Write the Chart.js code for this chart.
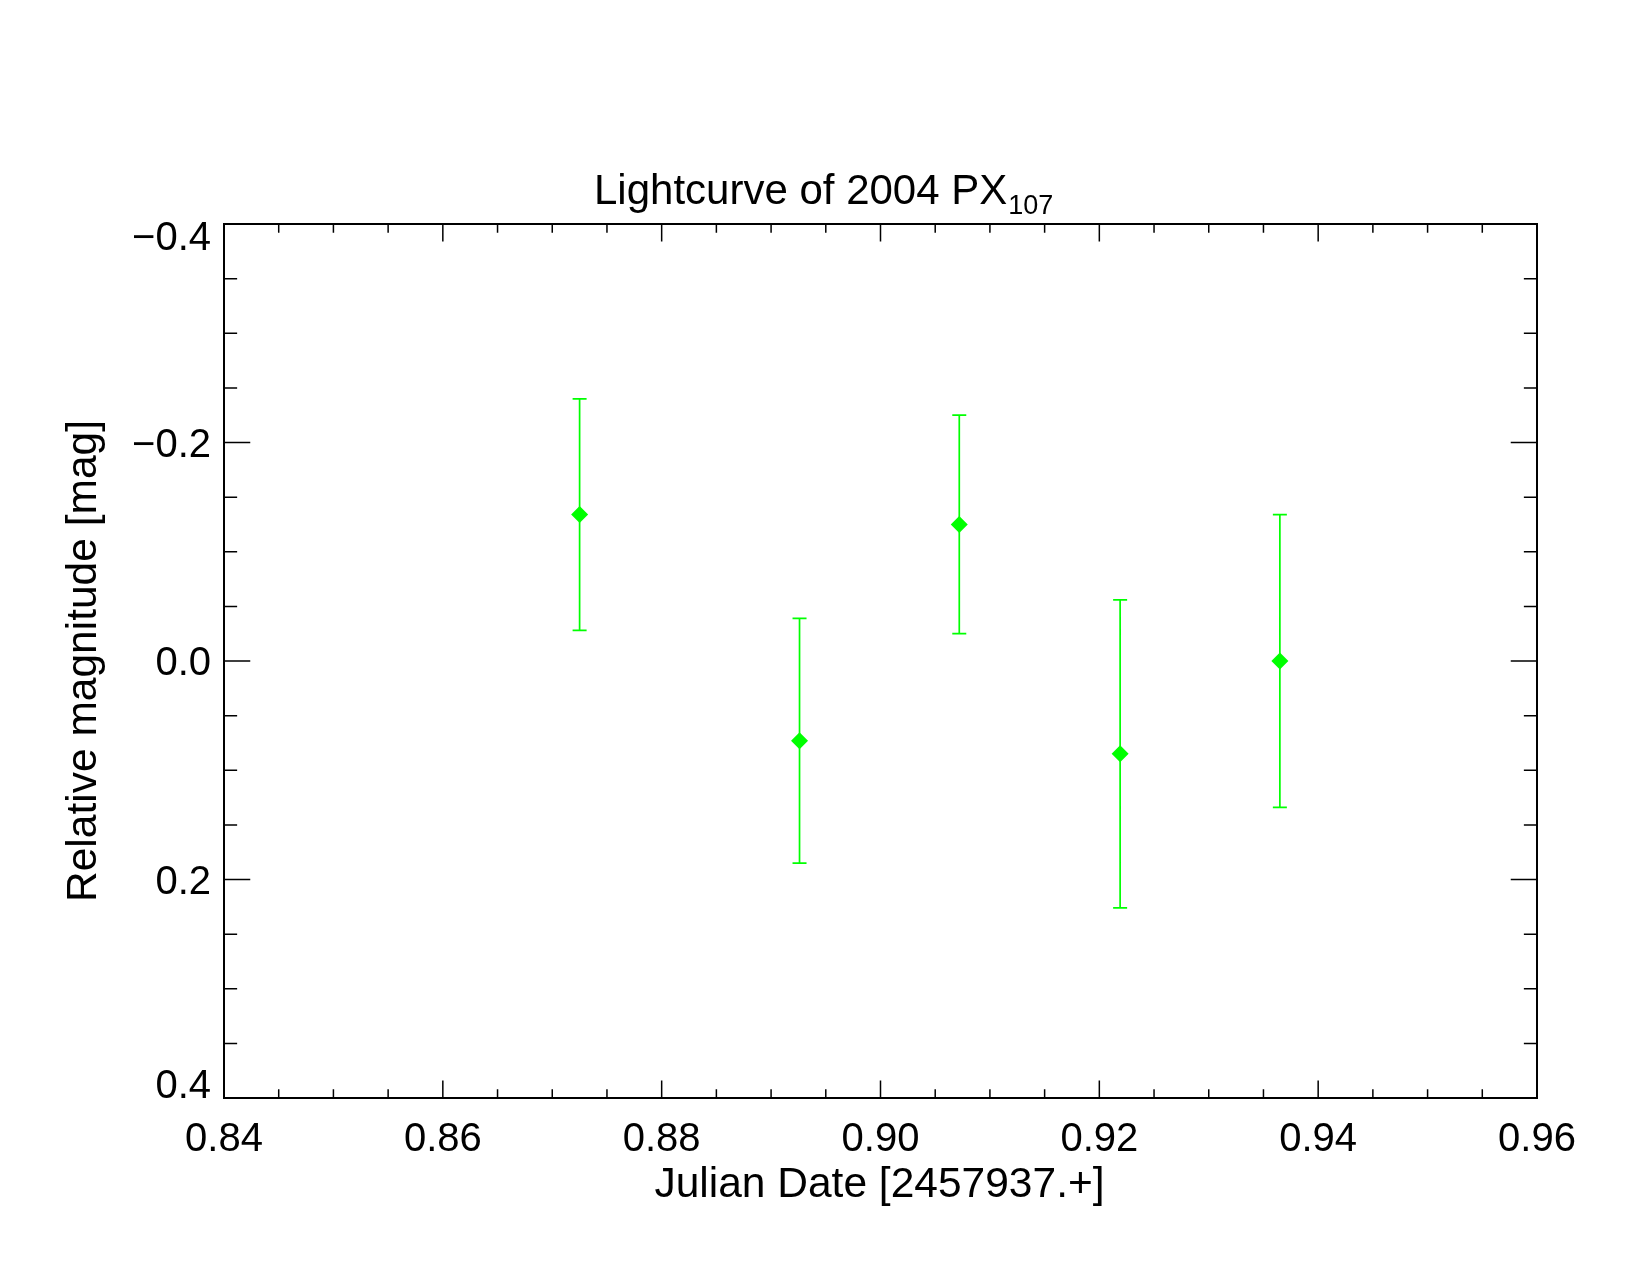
<!DOCTYPE html>
<html>
<head>
<meta charset="utf-8">
<title>Lightcurve of 2004 PX107</title>
<script src="https://cdn.jsdelivr.net/npm/chart.js@4.4.1/dist/chart.umd.min.js"></script>
<style>
  html, body { margin: 0; padding: 0; background: #fff; }
  canvas { display: block; }
</style>
</head>
<body>
<canvas id="lc" width="1650" height="1275"></canvas>
<script>
const julianDates = [0.8725, 0.8926, 0.9072, 0.9219, 0.9365];
const relMag = [-0.134, 0.073, -0.125, 0.085, 0.000];
const magErr = [0.106, 0.112, 0.100, 0.141, 0.134];

// axis ticks
const xTicks = [0.84, 0.86, 0.88, 0.90, 0.92, 0.94, 0.96];
const xTickLabels = ['0.84', '0.86', '0.88', '0.90', '0.92', '0.94', '0.96'];
const yTicks = [-0.4, -0.2, 0.0, 0.2, 0.4];
const yTickLabels = ['\u22120.4', '\u22120.2', '0.0', '0.2', '0.4'];
const minorPerMajor = 4;

const GREEN = '#00ff00';
const FONT = '"Liberation Sans", Arial, Helvetica, sans-serif';

// IDL-ish frame: box with inward ticks on all 4 sides + labels + titles
const idlFrame = {
  id: 'idlFrame',
  afterDraw(chart) {
    const ctx = chart.ctx;
    const a = chart.chartArea;
    const xs = chart.scales.x;
    const ys = chart.scales.y;
    const w = a.right - a.left;
    const h = a.bottom - a.top;
    const xMaj = h * 0.02, xMin = xMaj / 2;
    const yMaj = w * 0.02, yMin = yMaj / 2;

    ctx.save();
    ctx.strokeStyle = '#000';
    ctx.lineWidth = 2;
    ctx.strokeRect(a.left, a.top, w, h);

    ctx.lineWidth = 1.5;
    ctx.beginPath();
    // x ticks (bottom and top)
    for (let i = 0; i < xTicks.length; i++) {
      const px = xs.getPixelForValue(xTicks[i]);
      ctx.moveTo(px, a.bottom); ctx.lineTo(px, a.bottom - xMaj);
      ctx.moveTo(px, a.top); ctx.lineTo(px, a.top + xMaj);
      if (i < xTicks.length - 1) {
        const step = (xTicks[i + 1] - xTicks[i]) / minorPerMajor;
        for (let k = 1; k < minorPerMajor; k++) {
          const mx = xs.getPixelForValue(xTicks[i] + k * step);
          ctx.moveTo(mx, a.bottom); ctx.lineTo(mx, a.bottom - xMin);
          ctx.moveTo(mx, a.top); ctx.lineTo(mx, a.top + xMin);
        }
      }
    }
    // y ticks (left and right)
    for (let i = 0; i < yTicks.length; i++) {
      const py = ys.getPixelForValue(yTicks[i]);
      ctx.moveTo(a.left, py); ctx.lineTo(a.left + yMaj, py);
      ctx.moveTo(a.right, py); ctx.lineTo(a.right - yMaj, py);
      if (i < yTicks.length - 1) {
        const step = (yTicks[i + 1] - yTicks[i]) / minorPerMajor;
        for (let k = 1; k < minorPerMajor; k++) {
          const my = ys.getPixelForValue(yTicks[i] + k * step);
          ctx.moveTo(a.left, my); ctx.lineTo(a.left + yMin, my);
          ctx.moveTo(a.right, my); ctx.lineTo(a.right - yMin, my);
        }
      }
    }
    ctx.stroke();

    ctx.fillStyle = '#000';
    ctx.font = '40px ' + FONT;
    ctx.textBaseline = 'alphabetic';

    // x tick labels
    ctx.textAlign = 'center';
    xTicks.forEach((v, i) => {
      ctx.fillText(xTickLabels[i], xs.getPixelForValue(v), a.bottom + 53);
    });

    // y tick labels, end ones pushed inside the axis range like IDL does
    ctx.textAlign = 'right';
    yTicks.forEach((v, i) => {
      let base = ys.getPixelForValue(v) + 14;
      if (i === 0) base = a.top + 26;
      if (i === yTicks.length - 1) base = a.bottom;
      ctx.fillText(yTickLabels[i], a.left - 13, base);
    });

    // axis titles
    ctx.font = '42.5px ' + FONT;
    ctx.textAlign = 'center';
    ctx.fillText('Julian Date [2457937.+]', (a.left + a.right) / 2 - 1, 1197);

    ctx.save();
    ctx.translate(96, 661);
    ctx.rotate(-Math.PI / 2);
    ctx.fillText('Relative magnitude [mag]', 0, 0);
    ctx.restore();

    // title with subscript
    ctx.textAlign = 'left';
    ctx.font = '42px ' + FONT;
    const main = 'Lightcurve of 2004 PX';
    ctx.fillText(main, 594, 204);
    const mw = ctx.measureText(main).width;
    ctx.font = '27px ' + FONT;
    ctx.fillText('107', 594 + mw + 1, 214);

    ctx.restore();
  }
};

// vertical error bars with small caps, drawn under the markers
const errorBars = {
  id: 'errorBars',
  beforeDatasetsDraw(chart) {
    const ctx = chart.ctx;
    const xs = chart.scales.x;
    const ys = chart.scales.y;
    const cap = 7;
    ctx.save();
    ctx.strokeStyle = GREEN;
    ctx.lineWidth = 1.7;
    ctx.beginPath();
    julianDates.forEach((jd, i) => {
      const px = xs.getPixelForValue(jd);
      const yLo = ys.getPixelForValue(relMag[i] - magErr[i]);
      const yHi = ys.getPixelForValue(relMag[i] + magErr[i]);
      ctx.moveTo(px, yLo); ctx.lineTo(px, yHi);
      ctx.moveTo(px - cap, yLo); ctx.lineTo(px + cap, yLo);
      ctx.moveTo(px - cap, yHi); ctx.lineTo(px + cap, yHi);
    });
    ctx.stroke();
    ctx.restore();
  }
};

const points = julianDates.map((jd, i) => ({ x: jd, y: relMag[i] }));

new Chart(document.getElementById('lc').getContext('2d'), {
  type: 'scatter',
  data: {
    datasets: [{
      data: points,
      pointStyle: 'rectRot',
      pointRadius: 8.5,
      pointBorderWidth: 0,
      backgroundColor: GREEN,
      borderColor: GREEN
    }]
  },
  options: {
    responsive: false,
    animation: false,
    devicePixelRatio: 1,
    layout: { padding: { left: 224, top: 224, right: 113, bottom: 177 } },
    plugins: {
      legend: { display: false },
      tooltip: { enabled: false },
      title: { display: false }
    },
    scales: {
      x: { type: 'linear', min: 0.84, max: 0.96, display: false },
      y: { type: 'linear', min: -0.4, max: 0.4, reverse: true, display: false }
    }
  },
  plugins: [errorBars, idlFrame]
});
</script>
</body>
</html>
